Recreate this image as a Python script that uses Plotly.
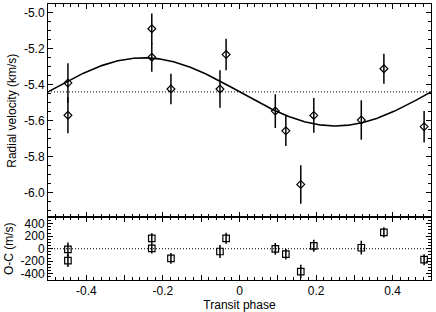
import numpy as np
import plotly.graph_objects as go
from plotly.subplots import make_subplots

# Data
phase = [-0.448, -0.448, -0.229, -0.229, -0.179, -0.051, -0.035, 0.0935,
         0.121, 0.160, 0.194, 0.318, 0.377, 0.482]
rv = [-5.39, -5.57, -5.088, -5.247, -5.424, -5.424, -5.232, -5.547,
      -5.657, -5.956, -5.571, -5.597, -5.311, -5.634]
rv_err = [0.11, 0.10, 0.085, 0.08, 0.085, 0.105, 0.088, 0.094,
          0.085, 0.107, 0.097, 0.11, 0.083, 0.088]
oc = [-11, -191, 164, 5, -155, -44, 167, -2, -86, -365, 47, 16, 262, -175]
oc_err = [110, 100, 85, 80, 85, 105, 88, 94, 85, 107, 97, 110, 83, 88]

# Orbit fit (sinusoid) parameters
gamma = -5.44   # systemic velocity, km/s
K = 0.19        # semi-amplitude, km/s

model_phase = np.linspace(-0.5, 0.5, 401)
model_rv = gamma - K * np.sin(2 * np.pi * model_phase)

fig = make_subplots(rows=2, cols=1, shared_xaxes=True, vertical_spacing=0,
                    row_heights=[0.7734, 0.2266])

fig.add_trace(go.Scatter(x=model_phase, y=model_rv, mode="lines",
                         line=dict(color="black", width=1.6),
                         showlegend=False, hoverinfo="skip"), row=1, col=1)
fig.add_trace(go.Scatter(x=[-0.5, 0.5], y=[gamma, gamma], mode="lines",
                         line=dict(color="black", width=1, dash="1px,2px"),
                         showlegend=False), row=1, col=1)
fig.add_trace(go.Scatter(x=phase, y=rv, mode="markers",
                         marker=dict(symbol="diamond-open", size=6, color="black",
                                     line=dict(width=1.2, color="black")),
                         error_y=dict(type="data", array=rv_err, width=0,
                                      thickness=1.5, color="black"),
                         showlegend=False), row=1, col=1)

fig.add_trace(go.Scatter(x=[-0.5, 0.5], y=[0, 0], mode="lines",
                         line=dict(color="black", width=1, dash="1px,2px"),
                         showlegend=False), row=2, col=1)
fig.add_trace(go.Scatter(x=phase, y=oc, mode="markers",
                         marker=dict(symbol="square-open", size=6.5, color="black",
                                     line=dict(width=1.2, color="black")),
                         error_y=dict(type="data", array=oc_err, width=0,
                                      thickness=1.5, color="black"),
                         showlegend=False), row=2, col=1)

font = dict(family="Liberation Sans, Arial, sans-serif", size=12, color="black")

x_major = [-0.5, -0.4, -0.3, -0.2, -0.1, 0, 0.1, 0.2, 0.3, 0.4, 0.5]
x_text = ["", "-0.4", "", "-0.2", "", "0", "", "0.2", "", "0.4", ""]

common_x = dict(range=[-0.5, 0.5], showline=True, linecolor="black", linewidth=1,
                mirror="ticks", ticks="inside", ticklen=5, tickcolor="black",
                tickvals=x_major, ticktext=x_text, showgrid=False, zeroline=False,
                minor=dict(dtick=0.02, tick0=0, ticks="inside", ticklen=3,
                           tickcolor="black", showgrid=False))
fig.update_xaxes(**common_x)
fig.update_xaxes(showticklabels=False, row=1, col=1)
fig.update_xaxes(title=dict(text="Transit phase", font=font, standoff=2),
                 tickfont=font, row=2, col=1)

common_y = dict(showline=True, linecolor="black", linewidth=1, mirror="ticks",
                ticks="inside", ticklen=5, tickcolor="black", showgrid=False,
                zeroline=False, tickfont=font)
fig.update_yaxes(**common_y)
fig.update_yaxes(range=[-6.14, -4.95], tickvals=[-6.0, -5.8, -5.6, -5.4, -5.2, -5.0],
                 ticktext=["-6.0", "-5.8", "-5.6", "-5.4", "-5.2", "-5.0"],
                 minor=dict(dtick=0.05, tick0=0, ticks="inside", ticklen=3,
                            tickcolor="black", showgrid=False),
                 title=dict(text="Radial velocity (km/s)", font=font, standoff=4),
                 row=1, col=1)
fig.update_yaxes(range=[-500, 500], tickvals=[-400, -200, 0, 200, 400],
                 ticktext=["-400", "-200", "0", "200", "400"],
                 minor=dict(dtick=50, tick0=0, ticks="inside", ticklen=3,
                            tickcolor="black", showgrid=False),
                 title=dict(text="O-C (m/s)", font=font, standoff=4),
                 row=2, col=1)

fig.update_layout(width=436, height=312, margin=dict(l=48, r=5, t=3, b=31),
                  plot_bgcolor="white", paper_bgcolor="white", font=font,
                  showlegend=False)

fig.write_html("out.html", config={"displayModeBar": False},
               post_script="document.body.style.margin='0';"
                           "document.body.style.overflow='hidden';")
